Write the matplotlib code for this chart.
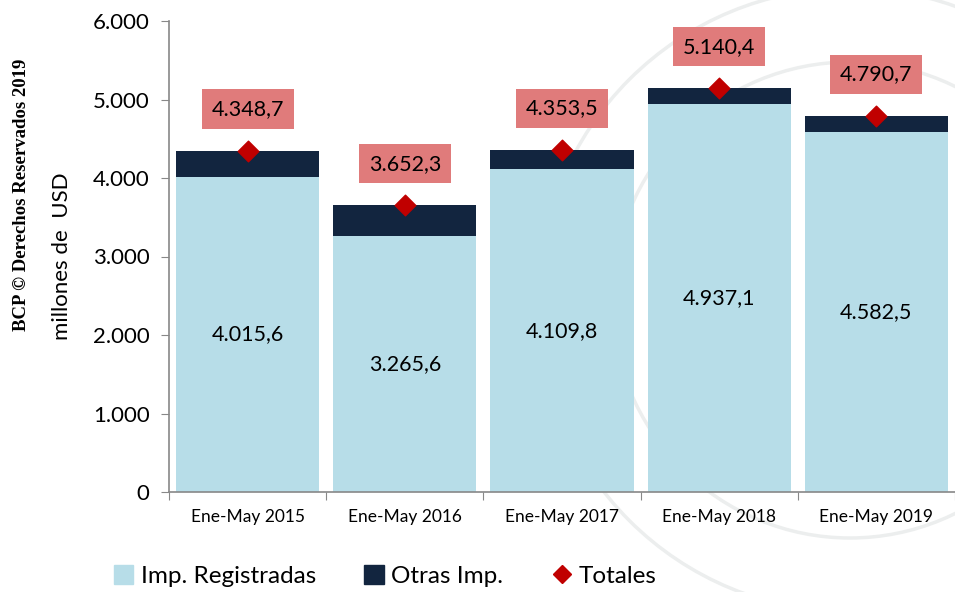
import matplotlib
matplotlib.use("Agg")
import matplotlib.pyplot as plt
import numpy as np
from matplotlib.lines import Line2D
from matplotlib.patches import Patch, Circle

categories = ["Ene-May 2015", "Ene-May 2016", "Ene-May 2017", "Ene-May 2018", "Ene-May 2019"]
registradas = [4015.6, 3265.6, 4109.8, 4937.1, 4582.5]
totales = [4348.7, 3652.3, 4353.5, 5140.4, 4790.7]
otras = [t - r for t, r in zip(totales, registradas)]
yticks = [0, 1000, 2000, 3000, 4000, 5000, 6000]
ytick_labels = ["0", "1.000", "2.000", "3.000", "4.000", "5.000", "6.000"]

def fmt(v):
    s = f"{v:,.1f}"
    return s.replace(",", "X").replace(".", ",").replace("X", ".")

C_LIGHT = "#b7dde8"
C_DARK = "#12253f"
C_RED = "#c00000"
C_BOX = "#e07b7b"
C_SEAL = "#eceeee"
FONT = "Lato"

fig = plt.figure(figsize=(9.55, 5.92), dpi=100)

# faint watermark seal rings
bg = fig.add_axes([0, 0, 1, 1], zorder=0)
bg.set_xlim(0, 955)
bg.set_ylim(0, 592)
bg.axis("off")
cx, cy = 850, 292
for rr in (238, 312):
    bg.add_patch(Circle((cx, cy), rr, fill=False, ec=C_SEAL, lw=2.5))

ax = fig.add_axes([169/955, 1-492/592, (955-169)/955, (492-21)/592], zorder=1)
x = np.arange(len(categories))
w = 0.91
ax.bar(x, registradas, width=w, color=C_LIGHT, zorder=2)
ax.bar(x, otras, bottom=registradas, width=w, color=C_DARK, zorder=2)
ax.scatter(x, totales, marker="D", s=110, color=C_RED, zorder=4)

for xi, rv, t in zip(x, registradas, totales):
    ax.text(xi, rv/2, fmt(rv), ha="center", va="center", fontsize=15.5, family=FONT, color="black", zorder=5)
    ax.annotate(fmt(t), (xi, t), xytext=(0, 30), textcoords="offset points",
                ha="center", va="center", fontsize=15.5, family=FONT, color="black", zorder=5,
                bbox=dict(boxstyle="square,pad=0.45", fc=C_BOX, ec="none"))

ax.set_xlim(-0.5, 4.475)
ax.set_ylim(0, 6000)
ax.set_yticks(yticks)
ax.set_yticklabels(ytick_labels, fontsize=16, family=FONT)
ax.set_xticks(np.arange(-0.5, 5, 1.0))
ax.set_xticklabels([])
ax.set_xticks(x, minor=True)
ax.set_xticklabels(categories, minor=True, fontsize=12.5, family=FONT)
ax.tick_params(axis="x", which="minor", length=0, pad=12)
ax.tick_params(axis="x", which="major", length=6, direction="out", color="#888888")
ax.tick_params(axis="y", length=6, direction="out", color="#888888", pad=8)
for s in ["top", "right"]:
    ax.spines[s].set_visible(False)
for s in ["left", "bottom"]:
    ax.spines[s].set_color("#888888")
    ax.spines[s].set_linewidth(1.2)
ax.patch.set_alpha(0)

ax.set_ylabel("millones de  USD", fontsize=16, family=FONT)
ax.yaxis.set_label_coords(-0.123, 0.5)

fig.text(22/955, 1-195/592, "BCP © Derechos Reservados 2019", rotation=90,
         ha="center", va="center", fontsize=13.5, family="Liberation Serif", weight="bold")

handles = [Patch(color=C_LIGHT, label="Imp. Registradas"),
           Patch(color=C_DARK, label="Otras Imp."),
           Line2D([], [], marker="D", color=C_RED, lw=0, markersize=9, label="Totales")]
fig.legend(handles=handles, loc="center left", bbox_to_anchor=(92/955, 1-576/592), ncol=3,
           frameon=False, prop=dict(family=FONT, size=17.5), handlelength=0.8, handleheight=0.8,
           handletextpad=0.3, columnspacing=2.0)

fig.savefig("out.png", dpi=100)
